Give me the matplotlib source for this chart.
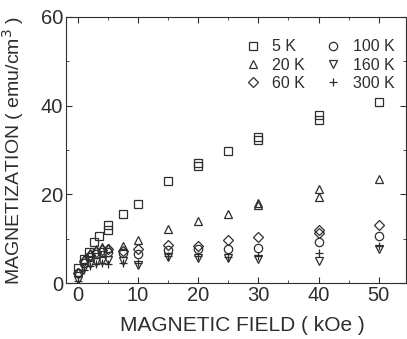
import matplotlib
matplotlib.use("Agg")
import matplotlib.pyplot as plt
from matplotlib.ticker import MultipleLocator

plt.rcParams['font.family'] = ['Liberation Sans', 'DejaVu Sans']

# magnetic field (kOe) and magnetization (emu/cm3) for each temperature
h_5k = [0, 1, 1.8, 2.7, 3.5, 5, 5, 7.5, 10, 15, 20, 20, 25, 30, 30, 40, 40, 50]
m_5k = [3.4, 5.4, 7.0, 9.3, 10.6, 12.0, 13.0, 15.6, 17.8, 22.9, 26.3, 27.0, 29.8, 32.3, 32.9, 36.8, 38.0, 40.8]

h_20k = [0, 1, 2, 3, 4, 5, 7.5, 10, 15, 20, 25, 30, 30, 40, 40, 50]
m_20k = [2.5, 5.5, 6.8, 7.6, 8.2, 7.9, 8.3, 9.8, 12.2, 14.1, 15.6, 17.5, 18.0, 19.5, 21.2, 23.5]

h_60k = [0, 1, 2, 3, 4, 5, 7.5, 10, 15, 20, 25, 30, 40, 40, 50]
m_60k = [2.3, 5.0, 6.3, 7.0, 7.4, 7.6, 7.3, 7.6, 8.6, 8.4, 9.6, 10.4, 11.4, 12.0, 13.0]

h_100k = [0, 1, 2, 3, 4, 5, 7.5, 10, 15, 20, 25, 30, 40, 50]
m_100k = [2.2, 4.6, 5.8, 6.6, 7.0, 7.0, 6.8, 6.6, 7.4, 7.7, 7.7, 7.9, 9.2, 10.5]

h_160k = [0, 1, 2, 3, 4, 5, 7.5, 10, 15, 20, 25, 30, 40, 50]
m_160k = [0.8, 3.4, 4.3, 4.8, 4.9, 5.2, 4.9, 4.0, 5.9, 5.6, 5.6, 5.4, 4.9, 7.7]

h_300k = [0, 1, 2, 3, 4, 5, 7.5, 10, 15, 20, 25, 30, 40, 50]
m_300k = [0.5, 3.0, 3.9, 4.4, 4.5, 4.4, 4.6, 4.6, 6.0, 6.0, 5.8, 6.0, 6.8, 8.3]

series = [
    ("5 K", h_5k, m_5k, "s"),
    ("20 K", h_20k, m_20k, "^"),
    ("60 K", h_60k, m_60k, "D"),
    ("100 K", h_100k, m_100k, "o"),
    ("160 K", h_160k, m_160k, "v"),
    ("300 K", h_300k, m_300k, "+"),
]

ink = "#2e2e2e"

fig = plt.figure(figsize=(4.07, 3.39), dpi=100)
ax = fig.add_axes([0.162, 0.165, 0.835, 0.785])

for nombre, h, m, mk in series:
    ms = 5 if mk == "D" else 6
    ax.plot(h, m, linestyle="none", marker=mk, markersize=ms,
            markerfacecolor="none", markeredgecolor=ink, markeredgewidth=0.9,
            color=ink, label=nombre)

ax.set_xlim(-2, 54.5)
ax.set_ylim(0, 60)
ax.xaxis.set_major_locator(MultipleLocator(10))
ax.xaxis.set_minor_locator(MultipleLocator(5))
ax.yaxis.set_major_locator(MultipleLocator(20))
ax.yaxis.set_minor_locator(MultipleLocator(10))
ax.tick_params(which="both", direction="in", top=True, right=True,
               colors=ink, labelcolor=ink, labelsize=14.5)
ax.tick_params(which="major", length=4, pad=2)
ax.tick_params(which="minor", length=2.5)
for s in ax.spines.values():
    s.set_color(ink)

ax.set_xlabel("MAGNETIC FIELD ( kOe )", fontsize=15, color=ink)
ax.set_ylabel("MAGNETIZATION ( emu/cm$^3$ )", fontsize=14, color=ink)
ax.xaxis.set_label_coords(0.52, -0.125)
ax.yaxis.set_label_coords(-0.118, 0.5)

leg = ax.legend(ncol=2, loc="upper right", bbox_to_anchor=(0.985, 0.94),
                frameon=False, fontsize=11.5,
                handletextpad=0.7, columnspacing=1.3, labelspacing=0.2,
                handlelength=1.0, borderaxespad=0.0)
for t in leg.get_texts():
    t.set_color(ink)

fig.savefig("out.png", dpi=100)
